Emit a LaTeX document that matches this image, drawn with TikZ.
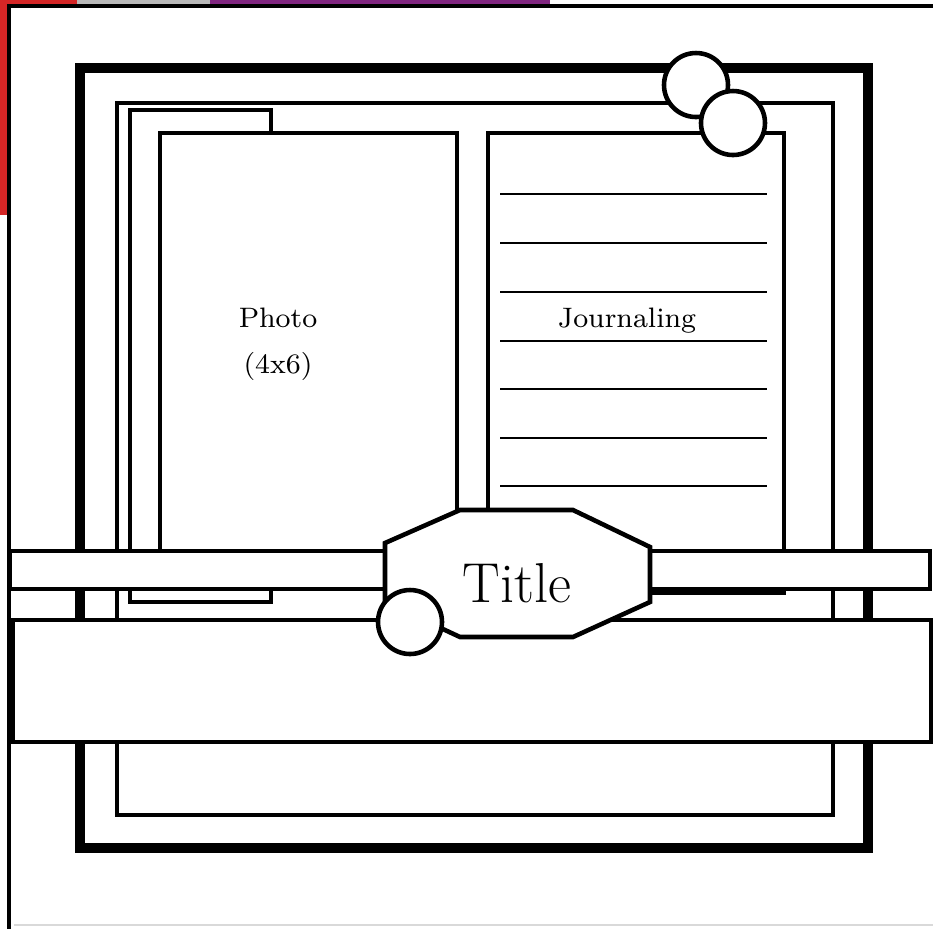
\documentclass[tikz,border=0pt]{standalone}
\usepackage{tikz}
\usetikzlibrary{positioning}

\begin{document}
\begin{tikzpicture}[x=0.01cm, y=-0.01cm,
    heavy/.style={line width=2.8pt},
    panel/.style={draw, line width=1.3pt, fill=white},
    ruling/.style={line width=0.75pt},
    label/.style={font=\fontsize{8}{10}\selectfont, anchor=base}]
  \useasboundingbox (0,0) rectangle (933,929);

  % Page edge
  \fill[white] (0,0) rectangle (933,929);
  \fill[red!80!black!85] (0,0) rectangle (9,215);
  \fill[red!80!black!85] (0,0) rectangle (77,6);
  \fill[gray!55] (77,0) rectangle (210,6);
  \fill[violet!70!gray] (210,0) rectangle (550,6);
  \draw[line width=1.1pt] (933,6) -- (9,6) -- (9,929);
  \draw[gray!30, thin] (14,925) -- (933,925);

  % Frames
  \draw[heavy] (80,68) rectangle (868,848);
  \draw[line width=1.3pt] (117,103) rectangle (833,815);

  % Mats
  \draw[panel] (130,110) rectangle (271,602);
  \draw[panel] (160,133) rectangle (457,584);
  \draw[panel] (488,133) rectangle (784,593);
  \foreach \y in {194,243,292,341,389,438,486}
    \draw[ruling] (500,\y) -- (767,\y);

  % Circles up top
  \draw[panel] (696,85) circle (32);
  \draw[panel] (733,123) circle (32);

  % Strips
  \draw[panel] (10,551) rectangle (930,589);
  \draw[panel] (13,620) rectangle (931,742);

  % Title tag
  \draw[panel] (460,510) -- (573,510) -- (650,547) -- (650,602)
    -- (573,637) -- (460,637) -- (385,602) -- (385,543) -- cycle;
  \draw[panel] (410,622) circle (32);

  % Labels
  \node[label] (photo) at (278,327) {Photo};
  \node[label] (size) at (278,373) {(4x6)};
  \node[label] (journal) at (627,327) {Journaling};
  \node[font=\fontsize{16}{18}\selectfont, anchor=base] (title) at (517,602) {Title};
\end{tikzpicture}
\end{document}
